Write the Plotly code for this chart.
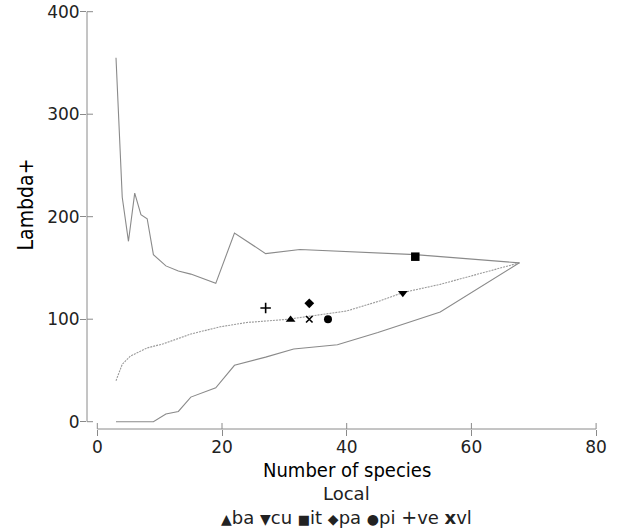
import plotly.graph_objects as go

# ---- data ----
upper_x = [3, 4, 5, 6, 7, 8, 9, 11, 13, 15, 19, 22, 27, 32.5, 51, 67.7]
upper_y = [355, 219, 176, 223, 202, 198, 163, 152, 147, 144, 135, 184, 164, 168, 163, 155]

mid_x = [3, 4, 5.3, 8, 10.6, 15, 19.7, 24, 30.4, 34.7, 40, 45.4, 49, 55, 67.7]
mid_y = [40, 56, 64, 72, 76, 85.5, 92.6, 96.8, 99.8, 103.4, 108, 118, 126, 134, 155]

lower_x = [3, 9, 11, 13, 15, 19, 22, 27, 31.5, 38.5, 45, 55, 67.7]
lower_y = [0, 0, 7.5, 10, 24, 33, 55, 63, 71, 75, 87, 107, 155]

site_codes = ["ba", "cu", "it", "pa", "pi", "ve", "vl"]
site_x = [31, 49, 51, 34, 37, 27, 34]
site_y = [99.5, 125.5, 161, 115.5, 100, 111, 100]
site_symbols = ["triangle-up", "triangle-down", "square", "diamond", "circle", "cross-thin", "x-thin"]
site_sizes = [8.5, 8.5, 8.5, 7.5, 8, 7.5, 6.5]
legend_glyphs = ["▲", "▼", "■", "◆", "●", "+", "<b>x</b>"]
legend_glyph_px = [14, 14, 13, 14, 14, 19, 18]

x_ticks = [0, 20, 40, 60, 80]
y_ticks = [0, 100, 200, 300, 400]

# ---- geometry (window pixels; body margin removed by post_script) ----
W, H = 624, 531
plot_left, plot_right, plot_top, plot_bottom = 87, 614, 4, 429
ml, mr, mt, mb = plot_left, W - plot_right, plot_top, H - plot_bottom
pw, ph = W - ml - mr, H - mt - mb
x0_px, x_scale = 97.3, 6.235      # pixel of x=0, px per unit
y0_px, y_scale = 421.7, 1.025     # pixel of y=0, px per unit
x_range = [(plot_left - x0_px) / x_scale, (plot_right - x0_px) / x_scale]
y_range = [(y0_px - plot_bottom) / y_scale, (y0_px - plot_top) / y_scale]


def px_to_paper_x(px):
    return (px - plot_left) / (plot_right - plot_left)


def px_to_paper_y(py):
    return (plot_bottom - py) / (plot_bottom - plot_top)


AX = "#8a8a8a"
TITLE_FONT = "DejaVu Sans Condensed, Liberation Sans Narrow, Liberation Sans, sans-serif"

fig = go.Figure()
fig.add_trace(go.Scatter(x=upper_x, y=upper_y, mode="lines",
                         line=dict(color=AX, width=1.1), showlegend=False))
fig.add_trace(go.Scatter(x=mid_x, y=mid_y, mode="lines",
                         line=dict(color="#9a9a9a", width=1.1, dash="2px,1px"), showlegend=False))
fig.add_trace(go.Scatter(x=lower_x, y=lower_y, mode="lines",
                         line=dict(color=AX, width=1.1), showlegend=False))

for code, x, y, sym, sz in zip(site_codes, site_x, site_y, site_symbols, site_sizes):
    thin = sym.endswith("thin")
    fig.add_trace(go.Scatter(
        x=[x], y=[y], mode="markers", name=code, showlegend=False,
        marker=dict(symbol=sym, size=sz, color="black",
                    line=dict(color="black", width=1.6 if thin else 0))))

shapes = []
shapes.append(dict(type="line", xref="paper", yref="y", x0=0, x1=0,
                   y0=y_ticks[0], y1=y_ticks[-1], line=dict(color=AX, width=1)))
shapes.append(dict(type="line", xref="x", yref="paper", y0=0, y1=0,
                   x0=x_ticks[0], x1=x_ticks[-1], line=dict(color=AX, width=1)))
for t in y_ticks:
    shapes.append(dict(type="line", xref="paper", yref="y", x0=0, x1=6 / pw,
                       y0=t, y1=t, line=dict(color=AX, width=1)))
for t in x_ticks:
    shapes.append(dict(type="line", xref="x", yref="paper", y0=0, y1=6 / ph,
                       x0=t, x1=t, line=dict(color=AX, width=1)))

legend_text = " ".join(
    '<span style="font-size:%dpx">%s</span>%s' % (p, g, c)
    for g, p, c in zip(legend_glyphs, legend_glyph_px, site_codes))
x_mid = (x_ticks[0] + x_ticks[-1]) / 2

fig.update_layout(
    width=W, height=H,
    margin=dict(l=ml, r=mr, t=mt, b=mb, pad=0, autoexpand=False),
    paper_bgcolor="white", plot_bgcolor="white",
    font=dict(family="DejaVu Sans", color="#222"),
    shapes=shapes,
    xaxis=dict(range=x_range, tickvals=x_ticks, showgrid=False, zeroline=False,
               showline=False, ticks="outside", ticklen=6, tickcolor=AX,
               automargin=False, ticklabelstandoff=-3, ticklabeloverflow="allow",
               tickfont=dict(size=17, family="DejaVu Sans", color="#222")),
    yaxis=dict(range=y_range, tickvals=y_ticks, showgrid=False, zeroline=False,
               showline=False, ticks="outside", ticklen=6, tickcolor=AX,
               automargin=False, ticklabelstandoff=-3, ticklabeloverflow="allow",
               tickfont=dict(size=17, family="DejaVu Sans", color="#222")),
    annotations=[
        dict(text="Number of species", xref="x", yref="paper", x=x_mid,
             y=px_to_paper_y(470), showarrow=False, yanchor="middle",
             font=dict(family=TITLE_FONT, size=20, color="black")),
        dict(text="Lambda+", xref="paper", yref="y", x=px_to_paper_x(26),
             y=(y_ticks[0] + y_ticks[-1]) / 2 + 12, showarrow=False,
             xanchor="center", yanchor="middle", textangle=-90,
             font=dict(family=TITLE_FONT, size=21, color="black")),
        dict(text="Local", xref="x", yref="paper", x=x_mid,
             y=px_to_paper_y(494), showarrow=False, yanchor="middle",
             font=dict(family="DejaVu Sans", size=18, color="#222")),
        dict(text=legend_text, xref="x", yref="paper", x=x_mid,
             y=px_to_paper_y(517), showarrow=False, yanchor="middle",
             font=dict(family="DejaVu Sans", size=18, color="#222")),
    ],
)

fig.write_html("out.html", config={"displayModeBar": False},
               post_script="document.body.style.margin='0';")
